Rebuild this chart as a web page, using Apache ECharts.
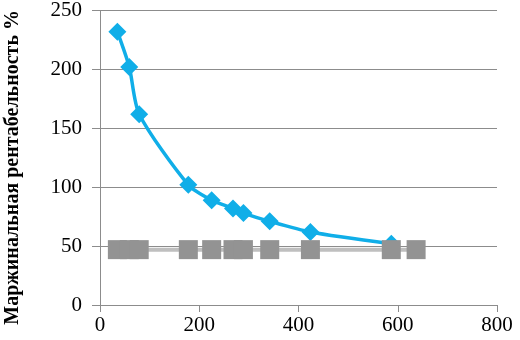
<!DOCTYPE html>
<html>
<head>
<meta charset="utf-8">
<script src="https://cdn.jsdelivr.net/npm/echarts@6/dist/echarts.min.js"></script>
<style>html,body{margin:0;padding:0;background:#fff}#c{width:520px;height:340px}</style>
</head>
<body>
<div id="c"></div>
<script>
var blueX = [35, 59, 79, 178, 225, 268, 289, 342, 424, 587];
var blueY = [232, 202, 162, 102, 89, 82, 78, 71, 62, 52];
var greyX = [35, 59, 79, 178, 225, 268, 289, 342, 424, 587, 637];
var greyY = [47, 47, 47, 47, 47, 47, 47, 47, 47, 47, 47];
var yTitle = 'Маржинальная рентабельность %';

function pairs(xs, ys) { return xs.map(function (x, i) { return [x, ys[i]]; }); }

var serif = 'Liberation Serif';
var chart = echarts.init(document.getElementById('c'), null, { renderer: 'canvas' });
chart.setOption({
  animation: false,
  backgroundColor: '#ffffff',
  grid: { left: 100, right: 23, top: 7, bottom: 35 },
  xAxis: {
    type: 'value', min: 0, max: 800, interval: 200,
    axisLine: { show: true, lineStyle: { color: '#8c8c8c', width: 1 } },
    axisTick: { show: true, length: 7, lineStyle: { color: '#8c8c8c' } },
    splitLine: { show: false },
    axisLabel: { margin: 10, color: '#000', fontFamily: serif, fontSize: 21 }
  },
  yAxis: {
    type: 'value', min: 0, max: 250, interval: 50,
    axisLine: { show: true, lineStyle: { color: '#8c8c8c', width: 1 } },
    axisTick: { show: true, length: 8, lineStyle: { color: '#8c8c8c' } },
    splitLine: { show: true, lineStyle: { color: '#8c8c8c', width: 1 } },
    axisLabel: { margin: 18, color: '#000', fontFamily: serif, fontSize: 21 }
  },
  graphic: [{
    type: 'text', left: 3, top: 10,
    rotation: Math.PI / 2,
    style: { text: yTitle, font: 'bold 20px "Liberation Serif"', fill: '#000' },
    z: 100
  }],
  series: [
    {
      type: 'line', data: pairs(blueX, blueY), smooth: 0.25,
      symbol: 'diamond', symbolSize: 18,
      lineStyle: { color: '#10aee8', width: 3.5 },
      itemStyle: { color: '#10aee8' }
    },
    {
      type: 'line', data: pairs(greyX, greyY),
      symbol: 'rect', symbolSize: 19,
      lineStyle: { color: '#bfbfbf', width: 4 },
      itemStyle: { color: '#939393' }
    }
  ]
});
</script>
</body>
</html>
